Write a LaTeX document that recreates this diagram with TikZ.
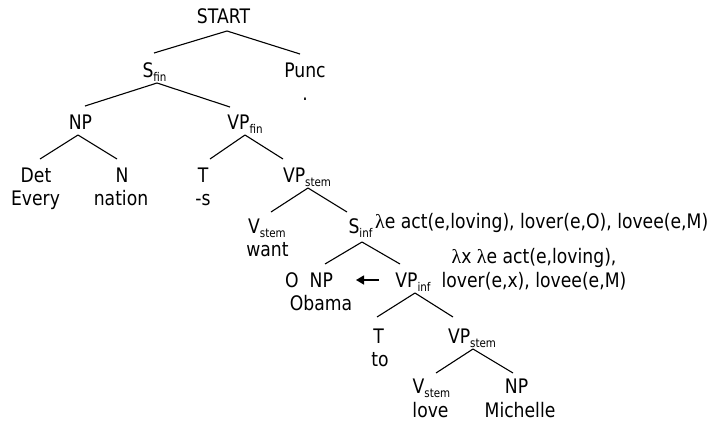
\documentclass[tikz,border=0pt]{standalone}
\usepackage{fontspec}
\setmainfont[FakeStretch=0.86]{DejaVu Sans}
\newfontfamily\lamfont{Liberation Serif}
\usetikzlibrary{calc,arrows.meta}

% category label with a lowered subscript
\newcommand\subfont{\fontsize{12}{12}\selectfont}
\newcommand\cat[2]{#1\raisebox{-4pt}{\subfont #2}}
\newcommand\lam{{\lamfont λ}}
% a tree branch: parent anchor offset, child anchor offset
\newcommand\branch[6]{\draw[branchline] ($(#1.base)+(#2,#3)$) -- ($(#4.base)+(#5,#6)$);}

\begin{document}
\begin{tikzpicture}[x=1pt,y=-1pt,
  every node/.style={inner sep=0pt, anchor=base, font=\fontsize{20}{24}\selectfont},
  branchline/.style={line width=1.1pt},
  movearrow/.style={line width=1.4pt, -{Triangle[length=8pt,width=9pt]}}]
\useasboundingbox (0,0) rectangle (717,424);

% top of the tree
\node (start) at (223.5,23) {START};
\node (sfin)  at (154.5,77) {\cat{S}{fin}};
\node (punc)  at (305,77) {Punc};
\node (dot)   at (305,100) {.};

\node (np1)   at (80.5,129) {NP};
\node (vpfin) at (245,129) {\cat{VP}{fin}};

\node (det)   at (36,182) {Det};
\node (every) at (35.5,205) {Every};
\node (n)     at (122,182) {N};
\node (nation) at (121,205) {nation};
\node (t1)    at (203,182) {T};
\node (s)     at (203,205) {-s};
\node (vpst1) at (307,182) {\cat{VP}{stem}};

% embedded clause
\node (vst1)  at (267,233) {\cat{V}{stem}};
\node (want)  at (267.5,256) {want};
\node (sinf)  at (360.5,233) {\cat{S}{inf}};
\node[anchor=base west] (sem1) at (375,228) {\lam e act(e,loving), lover(e,O), lovee(e,M)};

\node (onp)   at (309,287) {O\hspace{11pt}NP};
\node (obama) at (321,310) {Obama};
\node (vpinf) at (413,287) {\cat{VP}{inf}};
\node (sem2a) at (534,263) {\lam x \lam e act(e,loving),};
\node (sem2b) at (534,287) {lover(e,x), lovee(e,M)};

\node (t2)    at (378.5,343) {T};
\node (to)    at (380,366) {to};
\node (vpst2) at (472,343) {\cat{VP}{stem}};

\node (vst2)  at (431.5,393) {\cat{V}{stem}};
\node (love)  at (430.5,417) {love};
\node (np2)   at (516.5,393) {NP};
\node (michelle) at (520,417) {Michelle};

% branches
\branch{start}{3.5}{8}{sfin}{-0.5}{-24}
\branch{start}{3.5}{8}{punc}{-5}{-23}
\branch{sfin}{2.5}{6}{np1}{4.5}{-23}
\branch{sfin}{2.5}{6}{vpfin}{-15}{-22}
\branch{np1}{-2.5}{6}{det}{4}{-23}
\branch{np1}{-2.5}{6}{n}{-5}{-23}
\branch{vpfin}{0}{6}{t1}{7}{-23}
\branch{vpfin}{0}{6}{vpst1}{-24}{-23}
\branch{vpst1}{1}{6}{vst1}{4}{-21}
\branch{vpst1}{1}{6}{sinf}{-13.5}{-21}
\branch{sinf}{1.5}{9}{onp}{16}{-23}
\branch{sinf}{1.5}{9}{vpinf}{-13}{-23}
\branch{vpinf}{2}{6}{t2}{-1.5}{-26}
\branch{vpinf}{2}{6}{vpst2}{-19}{-26}
\branch{vpst2}{1}{6}{vst2}{4.5}{-20}
\branch{vpst2}{1}{6}{np2}{-3.5}{-20}

% the subject moves from the infinitival VP to the NP slot
\draw[movearrow] ($(vpinf.base)+(-34,-7)$) -- ($(onp.base)+(47,-7)$);
\end{tikzpicture}
\end{document}
